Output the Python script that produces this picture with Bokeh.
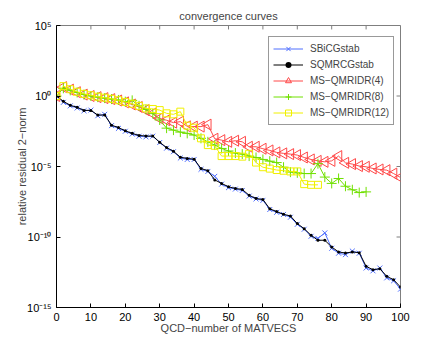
import math
from bokeh.plotting import figure
from bokeh.models import FixedTicker, CustomJSTickFormatter
from bokeh.embed import file_html
from bokeh.resources import INLINE

# ---- data (log10 of relative residual) ----
x_full = list(range(0, 101, 2))          # 0..100
x_green = list(range(0, 91, 2))          # 0..90
x_yellow = list(range(0, 77, 2))         # 0..76

sbicg_log = [0, -0.45, -0.70, -0.85, -1.05, -1.00, -1.40, -1.30, -2.10, -2.30,
             -2.50, -2.70, -2.85, -2.90, -2.85, -3.30, -3.70, -3.95, -4.40, -4.50,
             -4.50, -5.20, -5.35, -5.70, -6.25, -6.50, -6.60, -6.70, -7.10, -7.30,
             -7.40, -8.05, -8.25, -8.40, -8.60, -9.10, -9.45, -9.95, -10.10, -9.71,
             -10.80, -11.15, -11.25, -11.00, -11.15, -12.20, -12.40, -12.20, -12.90, -13.10,
             -13.70]
sqmr_log = [0, -0.38, -0.66, -0.80, -1.02, -1.02, -1.35, -1.35, -2.07, -2.24,
            -2.47, -2.65, -2.80, -2.84, -2.84, -3.28, -3.66, -3.92, -4.34, -4.43,
            -4.48, -5.14, -5.30, -5.95, -6.20, -6.44, -6.56, -6.63, -7.04, -7.27,
            -7.34, -8.00, -8.20, -8.39, -8.51, -9.05, -9.41, -9.88, -10.23, -10.23,
            -10.71, -11.06, -11.14, -11.06, -11.11, -12.08, -12.32, -12.25, -12.79, -13.03,
            -13.55]
qmr4_log = [0, 0.63, 0.45, 0.27, 0.10, 0.0, -0.08, -0.15, -0.22, -0.32,
            -0.45, -0.60, -0.78, -1.00, -1.25, -1.59, -1.72, -1.89, -1.82, -2.15,
            -2.17, -2.17, -2.03, -3.03, -3.13, -3.25, -3.17, -3.25, -3.60, -3.60,
            -3.74, -3.86, -4.00, -4.07, -4.12, -4.19, -4.36, -4.50, -4.60, -4.67,
            -4.60, -4.26, -4.74, -4.83, -4.97, -5.02, -5.14, -5.21, -5.26, -5.50,
            -5.78]
qmr8_log = [0, 0.55, 0.40, 0.25, 0.10, 0.0, -0.08, -0.15, -0.22, -0.28,
            -0.40, -0.31, -0.70, -0.95, -1.25, -1.70, -2.28, -2.42, -2.56, -2.65,
            -2.77, -3.00, -3.25, -3.48, -3.72, -3.90, -4.05, -4.12, -4.26, -4.36,
            -4.50, -4.62, -4.72, -5.05, -5.40, -5.45, -5.50, -5.50, -4.80, -5.75,
            -6.20, -5.85, -6.40, -6.65, -6.85, -6.80]
qmr12_log = [0, 0.70, 0.48, 0.30, 0.15, 0.05, -0.05, -0.12, -0.20, -0.30,
             -0.42, -0.55, -0.70, -0.88, -0.92, -1.00, -1.23, -1.30, -1.11, -2.10,
             -2.25, -3.00, -3.48, -3.53, -4.26, -4.26, -4.26, -4.30, -4.10, -4.72,
             -5.05, -5.15, -5.25, -5.30, -5.35, -5.35, -6.25, -6.30, -6.30]

series = [
    ("SBiCGstab", x_full, sbicg_log, "#4f6fff"),
    ("SQMRCGstab", x_full, sqmr_log, "#000000"),
    ("MS\u2212QMRIDR(4)", x_full, qmr4_log, "#ff4848"),
    ("MS\u2212QMRIDR(8)", x_green, qmr8_log, "#70e000"),
    ("MS\u2212QMRIDR(12)", x_yellow, qmr12_log, "#f0f000"),
]

y_ticks = [1e-15, 1e-10, 1e-5, 1.0, 1e5]
x_ticks = list(range(0, 101, 10))
x_min, x_max = 0, 100
y_min, y_max = 1e-15, 1e5

FONT = "Liberation Sans"

p = figure(width=434, height=338, x_range=(x_min, x_max), y_range=(y_min, y_max),
           y_axis_type="log", output_backend="svg", toolbar_location=None,
           min_border_left=56, min_border_right=34, min_border_top=25,
           min_border_bottom=31, background_fill_color="white",
           border_fill_color="white")

p.title.text = "convergence curves"
p.title.align = "center"
p.title.text_font = FONT
p.title.text_font_size = "11px"
p.title.text_font_style = "normal"
p.title.standoff = 7

p.xgrid.visible = False
p.ygrid.visible = False
p.outline_line_color = "#7f7f7f"
p.outline_line_width = 1

sup_fmt = CustomJSTickFormatter(code="""
const sup = {'-':'\u207b','0':'\u2070','1':'\u00b9','2':'\u00b2','3':'\u00b3','4':'\u2074','5':'\u2075','6':'\u2076','7':'\u2077','8':'\u2078','9':'\u2079'};
const e = Math.round(Math.log10(tick));
return '10' + String(e).split('').map(c => sup[c]).join('');
""")

for ax in p.xaxis:
    ax.ticker = FixedTicker(ticks=x_ticks, minor_ticks=[])
for ax in p.yaxis:
    ax.ticker = FixedTicker(ticks=y_ticks, minor_ticks=[])
    ax.formatter = sup_fmt

for ax in list(p.xaxis) + list(p.yaxis):
    ax.major_tick_in = 4
    ax.major_tick_out = 0
    ax.minor_tick_in = 0
    ax.minor_tick_out = 0
    ax.axis_line_color = "black"
    ax.major_tick_line_color = "black"
    ax.major_label_text_font = FONT
    ax.major_label_text_font_size = "11px"
    ax.major_label_text_color = "black"
    ax.axis_label_text_font = FONT
    ax.axis_label_text_font_size = "11px"
    ax.axis_label_text_font_style = "normal"
    ax.major_label_standoff = 5
    ax.axis_label_standoff = -2
for ax in p.yaxis:
    ax.axis_label_standoff = -4

p.xaxis.axis_label = "QCD\u2212number of MATVECS"
p.yaxis.axis_label = "relative residual 2\u2212norm"

# mirrored inward ticks on the top and right frame edges (box on)
tick_len_dec = 0.28   # ~4 px in decades
tick_len_x = 1.15     # ~4 px in x units
p.segment(x0=x_ticks, y0=[y_max] * len(x_ticks), x1=x_ticks,
          y1=[y_max / 10 ** tick_len_dec] * len(x_ticks), line_color="#7f7f7f", line_width=1)
p.segment(x0=[x_max] * len(y_ticks), y0=y_ticks, x1=[x_max - tick_len_x] * len(y_ticks),
          y1=y_ticks, line_color="#7f7f7f", line_width=1)

for name, xs, ls, col in series:
    ys = [10.0 ** v for v in ls]
    p.line(xs, ys, line_color=col, line_width=1, legend_label=name)
    if name == "SBiCGstab":
        p.scatter(xs, ys, marker="x", size=7, line_color=col, line_width=1, legend_label=name)
    elif name == "SQMRCGstab":
        p.scatter(xs, ys, marker="circle", size=3, line_color=None, fill_color=col, legend_label=name)
    elif name.endswith("(4)"):
        p.scatter(xs, ys, marker="triangle", angle=math.pi / 2, size=11, line_color=col,
                  fill_alpha=0, line_width=1, legend_label=name)
    elif name.endswith("(8)"):
        p.scatter(xs, ys, marker="cross", size=10, line_color=col, line_width=1, legend_label=name)
    else:
        p.scatter(xs, ys, marker="square", size=7, line_color=col, fill_alpha=0,
                  line_width=1, legend_label=name)

lg = p.legend[0]
lg.location = (212, 182)
lg.border_line_color = "#333333"
lg.border_line_width = 1
lg.background_fill_alpha = 1
lg.label_text_font = FONT
lg.label_text_font_size = "10px"
lg.glyph_width = 30
lg.glyph_height = 15
lg.label_height = 15
lg.spacing = 1
lg.padding = 4
lg.margin = 0
lg.label_standoff = 7

open("out.html", "w").write(file_html(p, INLINE))
